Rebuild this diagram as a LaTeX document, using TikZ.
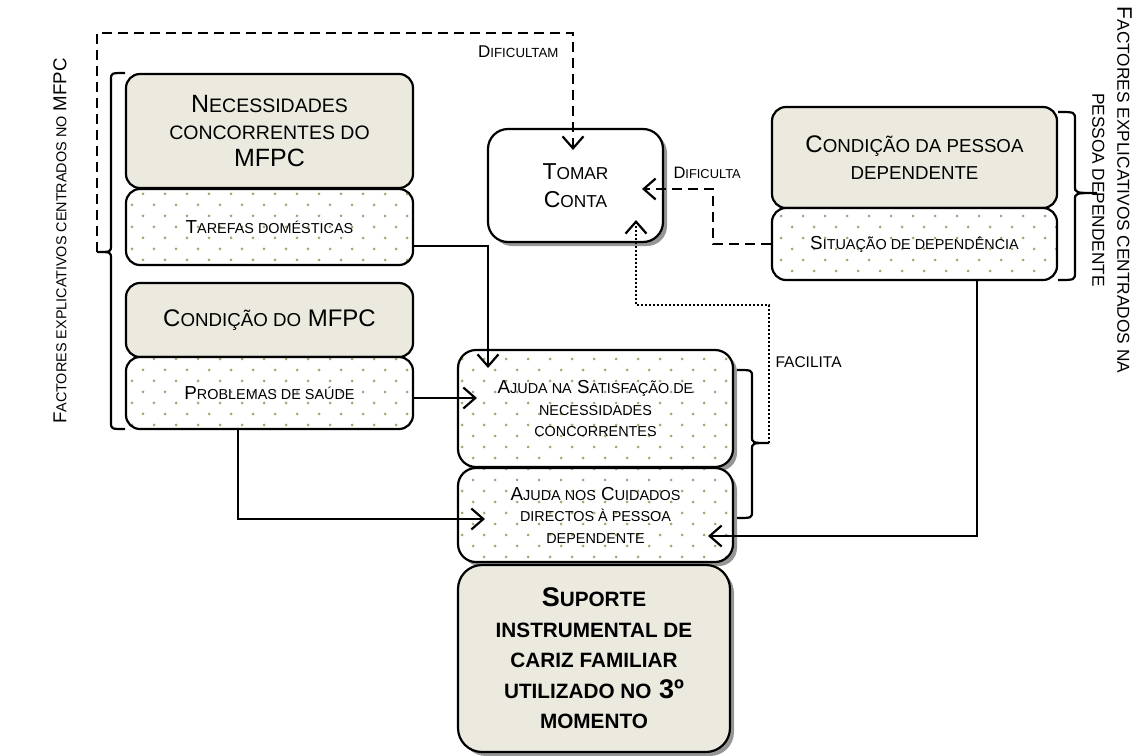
\documentclass[tikz,border=0pt]{standalone}
\usepackage{fontspec}
\setmainfont{Liberation Sans}
\usepackage{relsize}
\usetikzlibrary{arrows.meta,shadows,patterns,calc}

\definecolor{headfill}{RGB}{236,233,222}
\definecolor{dotcol}{RGB}{172,162,118}
\definecolor{shadowgrey}{RGB}{150,150,150}

% reduced capitals for the small-caps look
\newcommand\sm[1]{{\relscale{0.78}#1}}

% staggered grid of small dots used inside the lighter boxes
\pgfdeclarepatternformonly{beigedots}{\pgfqpoint{-2pt}{-2pt}}{\pgfqpoint{13pt}{13pt}}{\pgfqpoint{22pt}{22pt}}{%
  \pgfpathcircle{\pgfqpoint{0pt}{0pt}}{1.5pt}%
  \pgfpathcircle{\pgfqpoint{11pt}{11pt}}{1.5pt}%
  \pgfusepath{fill}}

\tikzset{
  box/.style={draw, line width=2.2pt, rounded corners=14pt, inner sep=0pt, align=center},
  head/.style={box, fill=headfill},
  shade/.style={drop shadow={shadow xshift=4pt, shadow yshift=-4pt, fill=shadowgrey, opacity=1}},
  dotbox/.style={box, preaction={fill=white}, pattern=beigedots, pattern color=dotcol},
  conn/.style={line width=2.2pt, -{Straight Barb[length=12pt,width=21pt]}},
  brace/.style={line width=2.2pt},
  dashline/.style={dash pattern=on 10pt off 6pt},
  dotline/.style={dash pattern=on 2.2pt off 1.8pt},
  bigf/.style={font=\fontsize{25}{27}\selectfont},
  medf/.style={font=\fontsize{18.8}{21.5}\selectfont},
}

\begin{document}
\begin{tikzpicture}[x=1pt,y=-1pt]
\useasboundingbox (0,0) rectangle (1142,755);

% ---- left group: factors centred on the MFPC
\node[head, bigf, minimum width=287pt, minimum height=114pt] (nec) at (269.5,131)
  {N\sm{ECESSIDADES}\\\sm{CONCORRENTES DO}\\MFPC};
\node[dotbox, medf, minimum width=287pt, minimum height=76pt] (taref) at (269.5,227)
  {T\sm{AREFAS DOMÉSTICAS}};
\node[head, font=\fontsize{24}{27}\selectfont, minimum width=287pt, minimum height=74pt] (condm) at (269.5,320)
  {C\sm{ONDIÇÃO DO} MFPC};
\node[dotbox, medf, minimum width=287pt, minimum height=72pt] (prob) at (269.5,393)
  {P\sm{ROBLEMAS DE SAÚDE}};

% ---- central box
\node[shade, box, fill=white, rounded corners=20pt, font=\fontsize{23}{28}\selectfont,
      minimum width=175pt, minimum height=113pt] (tomar) at (575.5,185.5)
  {T\sm{OMAR}\\C\sm{ONTA}};

% ---- right group: factors centred on the dependent person
\node[head, font=\fontsize{24}{27}\selectfont, minimum width=285pt, minimum height=101pt] (condp) at (914.5,157.5)
  {C\sm{ONDIÇÃO DA PESSOA}\\\sm{DEPENDENTE}};
\node[dotbox, medf, minimum width=285pt, minimum height=72pt] (sit) at (914.5,244)
  {S\sm{ITUAÇÃO DE DEPENDÊNCIA}};

% ---- kinds of help
\node[shade, dotbox, medf, rounded corners=18pt, minimum width=275pt, minimum height=117pt] (aj1) at (595.5,408.5)
  {A\sm{JUDA NA} S\sm{ATISFAÇÃO DE}\\\sm{NECESSIDADES}\\\sm{CONCORRENTES}};
\node[shade, dotbox, medf, rounded corners=18pt, minimum width=275pt, minimum height=94pt] (aj2) at (595.5,515)
  {A\sm{JUDA NOS} C\sm{UIDADOS}\\\sm{DIRECTOS À PESSOA}\\\sm{DEPENDENTE}};
\node[shade, head, rounded corners=24pt, font=\fontsize{27}{30.5}\selectfont\bfseries,
      minimum width=272pt, minimum height=187pt] (sup) at (594,658.5)
  {S\sm{UPORTE}\\\sm{INSTRUMENTAL DE}\\\sm{CARIZ FAMILIAR}\\\sm{UTILIZADO NO} 3º\\\sm{MOMENTO}};

% ---- side captions
\node[rotate=90, font=\fontsize{18.7}{21}\selectfont] (lcap) at (60,241)
  {F\sm{ACTORES EXPLICATIVOS CENTRADOS NO} MFPC};
\node[rotate=-90, align=center, font=\fontsize{21}{25}\selectfont] (rcap) at (1112,190)
  {F\sm{ACTORES EXPLICATIVOS CENTRADOS NA}\\\sm{PESSOA DEPENDENTE}};

% ---- braces
\coordinate (lbtip) at (97,252);
\draw[brace] (125,73) .. controls (111,73) .. (111,80) -- (111,245)
  .. controls (111,252) .. (lbtip) .. controls (111,252) .. (111,259)
  -- (111,422) .. controls (111,429) .. (125,429);
\coordinate (rbtip) at (1097,193);
\draw[brace] (1058,112) .. controls (1075,112) .. (1075,120) -- (1075,186)
  .. controls (1075,193) .. (rbtip) .. controls (1075,193) .. (1075,200)
  -- (1075,272) .. controls (1075,280) .. (1058,280);
\coordinate (abtip) at (769,443);
\draw[brace] (737,370) .. controls (752,370) .. (752,377) -- (752,436)
  .. controls (752,443) .. (abtip) .. controls (752,443) .. (752,450)
  -- (752,511) .. controls (752,518) .. (737,518);

% ---- arrow end points inside the target boxes
\coordinate (tomarA) at (573,150);
\coordinate (tomarB) at (642,189);
\coordinate (tomarC) at (636,220);
\coordinate (dtop) at (97,33);
\coordinate (dbend) at (713,189);
\coordinate (fbend) at (636,305);
\coordinate (aj1A) at (488,368);
\coordinate (aj1B) at (477,398);
\coordinate (aj2A) at (485,519);
\coordinate (aj2B) at (708,536);

% ---- connectors
\draw[conn, dashline] (lbtip) -- (dtop) -| (tomarA);
\node[anchor=base east, font=\fontsize{17}{20}\selectfont] (ldif1) at (562,57) {D\sm{IFICULTAM}};

\draw[conn, dashline] (sit.west) -| (dbend) -- (tomarB);
\node[anchor=base west, font=\fontsize{16.5}{20}\selectfont] (ldif2) at (670,178) {D\sm{IFICULTA}};

\draw[conn, dotline] (abtip) |- (fbend) -- (tomarC);
\node[anchor=west, font=\fontsize{15.5}{18}\selectfont] (lfac) at (772,362) {FACILITA};

\draw[conn] ([yshift=-19pt]taref.east) -| (aj1A);
\draw[conn] ([yshift=-5pt]prob.east) -- (aj1B);
\draw[conn] ([xshift=-31.5pt]prob.south) |- (aj2A);
\draw[conn] ([xshift=62.5pt]sit.south) |- (aj2B);
\end{tikzpicture}
\end{document}
